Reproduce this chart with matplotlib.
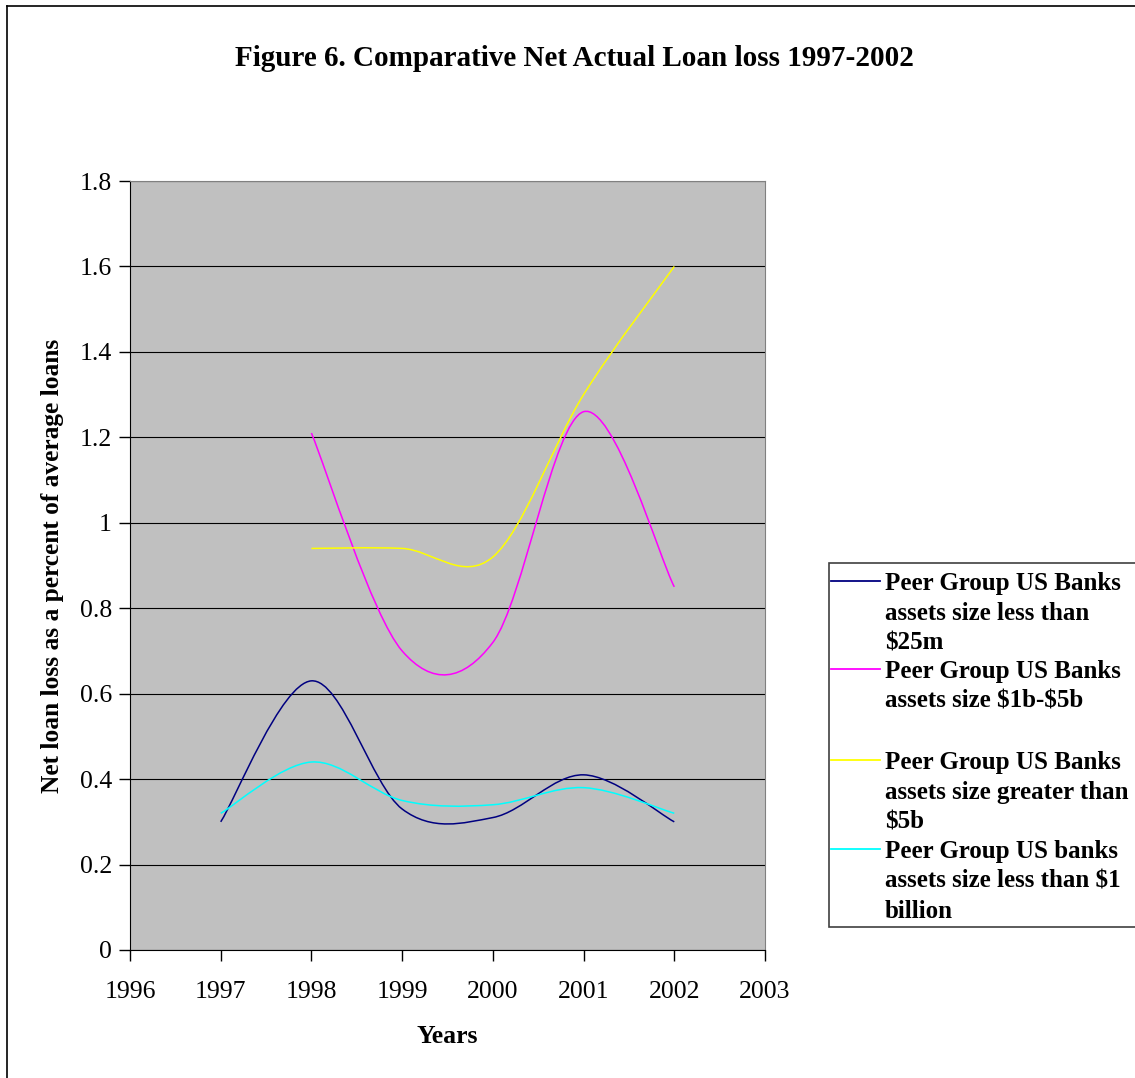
import matplotlib.pyplot as plt
from matplotlib.path import Path
from matplotlib.patches import PathPatch, Rectangle
from matplotlib.lines import Line2D

plt.rcParams['font.family'] = ['Liberation Serif', 'DejaVu Serif']

years_small = [1997, 1998, 1999, 2000, 2001, 2002]
loss_small = [0.30, 0.63, 0.33, 0.31, 0.41, 0.30]

years_mid = [1998, 1999, 2000, 2001, 2002]
loss_mid = [1.21, 0.70, 0.72, 1.26, 0.85]

years_large = [1998, 1999, 2000, 2001, 2002]
loss_large = [0.94, 0.94, 0.92, 1.30, 1.60]

years_under1b = [1997, 1998, 1999, 2000, 2001, 2002]
loss_under1b = [0.32, 0.44, 0.35, 0.34, 0.38, 0.32]

labels = [
    "Peer Group US Banks\nassets size less than\n\\$25m",
    "Peer Group US Banks\nassets size \\$1b-\\$5b",
    "Peer Group US Banks\nassets size greater than\n\\$5b",
    "Peer Group US banks\nassets size less than \\$1\nbillion",
]
colors = ['#000080', '#FF00FF', '#FFFF00', '#00FFFF']


def smooth_path(xs, ys):
    # cubic bezier through the points, catmull-rom style tangents
    n = len(xs)
    verts = [(xs[0], ys[0])]
    codes = [Path.MOVETO]
    for i in range(n - 1):
        x0, y0 = xs[max(i - 1, 0)], ys[max(i - 1, 0)]
        x1, y1 = xs[i], ys[i]
        x2, y2 = xs[i + 1], ys[i + 1]
        x3, y3 = xs[min(i + 2, n - 1)], ys[min(i + 2, n - 1)]
        c1 = (x1 + (x2 - x0) / 6, y1 + (y2 - y0) / 6)
        c2 = (x2 - (x3 - x1) / 6, y2 - (y3 - y1) / 6)
        verts += [c1, c2, (x2, y2)]
        codes += [Path.CURVE4] * 3
    return Path(verts, codes)


fig = plt.figure(figsize=(11.35, 10.78), dpi=100)
ax = fig.add_axes([130 / 1135, 1 - 950 / 1078, 635 / 1135, 769 / 1078])
ax.set_facecolor('#C0C0C0')

series = [(years_small, loss_small), (years_mid, loss_mid),
          (years_large, loss_large), (years_under1b, loss_under1b)]
for (xs, ys), c in zip(series, colors):
    ax.add_patch(PathPatch(smooth_path(xs, ys), facecolor='none',
                           edgecolor=c, lw=1.1, zorder=3))

ax.set_xlim(1996, 2003)
ax.set_ylim(0, 1.8)
ax.set_xticks(range(1996, 2004))
ax.set_yticks([0, 0.2, 0.4, 0.6, 0.8, 1, 1.2, 1.4, 1.6, 1.8])
ax.set_yticklabels(['0', '0.2', '0.4', '0.6', '0.8', '1', '1.2', '1.4', '1.6', '1.8'])
ax.yaxis.grid(True, color='black', lw=0.8)
ax.set_axisbelow(True)
ax.tick_params(labelsize=18.5, direction='out', length=8, width=1)
ax.tick_params(axis='x', pad=14)
ax.tick_params(axis='y', pad=5)
for s in ['top', 'right']:
    ax.spines[s].set_color('#808080')
for s in ['left', 'bottom']:
    ax.spines[s].set_color('black')

ax.set_xlabel('Years', fontsize=18.5, fontweight='bold', labelpad=16)
ax.set_ylabel('Net loan loss as a percent of average loans', fontsize=18.3,
              fontweight='bold', labelpad=11)

fig.text(574 / 1135, 1 - 58 / 1078, 'Figure 6. Comparative Net Actual Loan loss 1997-2002',
         ha='center', va='center', fontsize=21, fontweight='bold')

# hand-built legend box
fig.add_artist(Rectangle((829 / 1135, 1 - 927 / 1078), 320 / 1135, 364 / 1078,
                         transform=fig.transFigure, facecolor='white',
                         edgecolor='#404040', lw=1.2))
entry_y = [581, 669, 760, 849]
for y, lab, c in zip(entry_y, labels, colors):
    fig.add_artist(Line2D([831 / 1135, 880 / 1135], [1 - y / 1078] * 2,
                          color=c, lw=1.3, transform=fig.transFigure))
    fig.text(885 / 1135, 1 - (y - 9) / 1078, lab, ha='left', va='top',
             fontsize=18, fontweight='bold', linespacing=1.38)

# outer frame
fig.add_artist(Line2D([7 / 1135, 7 / 1135], [0, 1 - 6 / 1078], color='black',
                      lw=1.2, transform=fig.transFigure))
fig.add_artist(Line2D([7 / 1135, 1], [1 - 6 / 1078] * 2, color='black',
                      lw=1.2, transform=fig.transFigure))

fig.savefig('out.png', dpi=100)
